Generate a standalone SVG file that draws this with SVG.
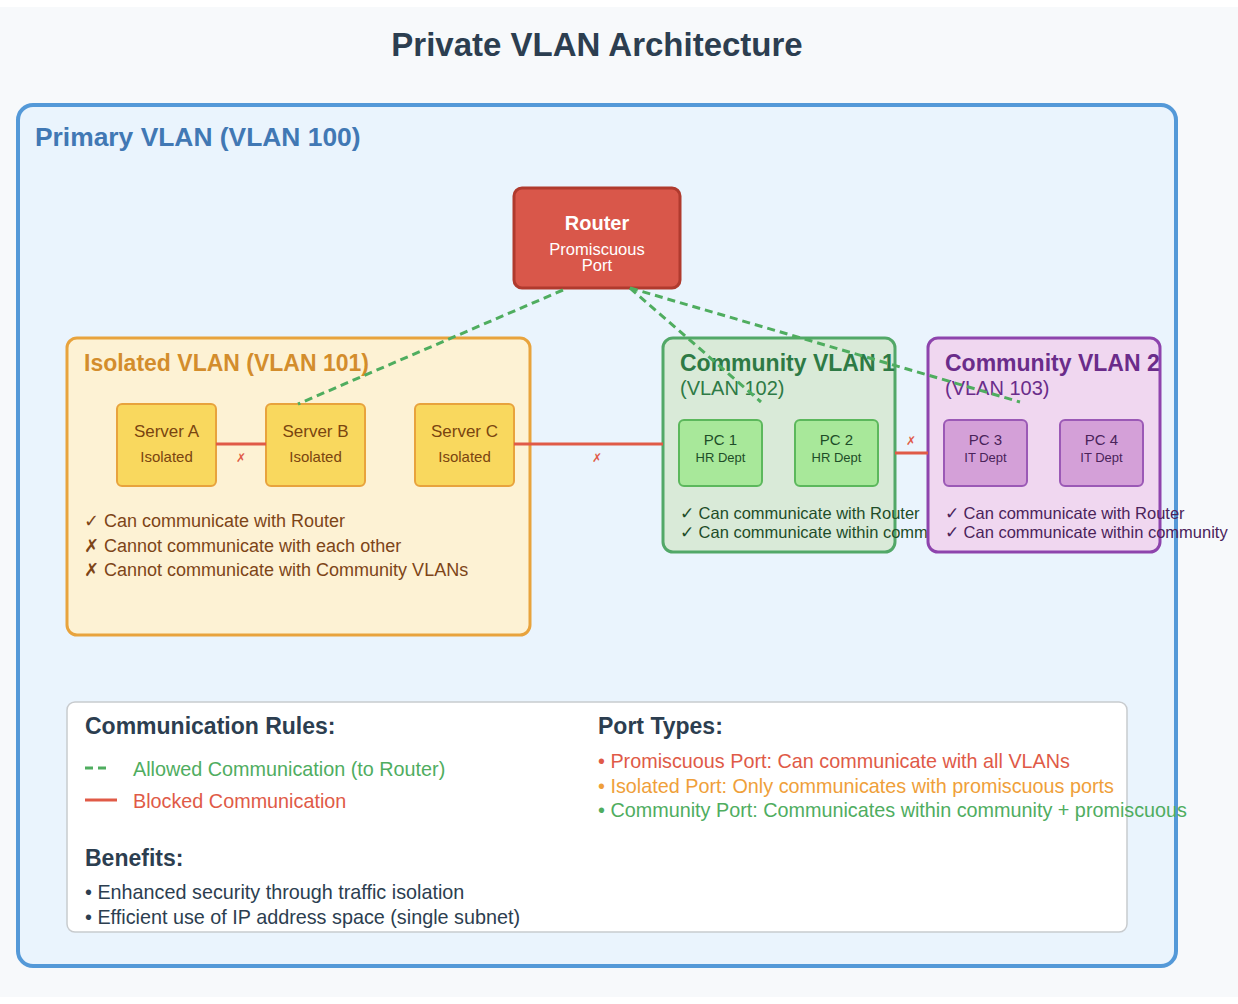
<svg xmlns="http://www.w3.org/2000/svg" width="1238" height="1004" viewBox="0 0 1238 1004">
<style>
text{font-family:"Liberation Sans",Arial,Helvetica,sans-serif}
.b{font-weight:bold}
.allow{stroke:#4fad5f;stroke-width:3;stroke-dasharray:8,5;fill:none}
.block{stroke:#e05a47;stroke-width:3;fill:none}
.x{fill:#e05a47;font-size:12px;text-anchor:middle}
.srv{fill:#f9d85e;stroke:#e8a33d;stroke-width:2}
.srvt{fill:#7a4510;text-anchor:middle}
.pcg{fill:#a8e89a;stroke:#5cb85c;stroke-width:2}
.pcgt{fill:#1e4d28;text-anchor:middle}
.pcp{fill:#d4a0d8;stroke:#9b59b6;stroke-width:2}
.pcpt{fill:#4a235a;text-anchor:middle}
.lg{font-size:19.8px}
</style>
<rect x="0" y="0" width="1238" height="1004" fill="#ffffff"/>
<rect x="0" y="7" width="1238" height="990" fill="#f7f9fb"/>
<text x="597" y="56" class="b" font-size="33" fill="#2c3e50" text-anchor="middle">Private VLAN Architecture</text>

<g id="primary-vlan">
<rect x="18" y="105" width="1158" height="861" rx="15" fill="#eaf4fd" stroke="#5499d8" stroke-width="4"/>
<text x="35" y="146" class="b" font-size="26.4" fill="#4178b4">Primary VLAN (VLAN 100)</text>
</g>

<g id="router">
<rect x="514" y="188" width="166" height="100" rx="8" fill="#d9574a" stroke="#b03a2e" stroke-width="3"/>
<text x="597" y="230" class="b" font-size="20" fill="#ffffff" text-anchor="middle">Router</text>
<text x="597" y="255" font-size="16.5" fill="#ffffff" text-anchor="middle">Promiscuous</text>
<text x="597" y="271" font-size="16.5" fill="#ffffff" text-anchor="middle">Port</text>
</g>

<g id="isolated-vlan">
<rect x="67" y="338" width="463" height="297" rx="10" fill="#fdf2d4" stroke="#e8a33d" stroke-width="3"/>
<text x="84" y="371" class="b" font-size="23" fill="#d38d2c">Isolated VLAN (VLAN 101)</text>
<text x="84" y="527" font-size="18" fill="#7d4518">✓ Can communicate with Router</text>
<text x="84" y="552" font-size="18" fill="#7d4518">✗ Cannot communicate with each other</text>
<text x="84" y="576" font-size="18" fill="#7d4518">✗ Cannot communicate with Community VLANs</text>
</g>
<g id="server-a">
<rect class="srv" x="117" y="404" width="99" height="82" rx="5"/>
<text class="srvt" x="166.5" y="437" font-size="17">Server A</text>
<text class="srvt" x="166.5" y="462" font-size="15">Isolated</text>
</g>
<g id="server-b">
<rect class="srv" x="266" y="404" width="99" height="82" rx="5"/>
<text class="srvt" x="315.5" y="437" font-size="17">Server B</text>
<text class="srvt" x="315.5" y="462" font-size="15">Isolated</text>
</g>
<g id="server-c">
<rect class="srv" x="415" y="404" width="99" height="82" rx="5"/>
<text class="srvt" x="464.5" y="437" font-size="17">Server C</text>
<text class="srvt" x="464.5" y="462" font-size="15">Isolated</text>
</g>

<g id="community-vlan-1">
<rect x="663" y="338" width="232" height="214" rx="10" fill="#d9ead8" stroke="#52a868" stroke-width="3"/>
<text x="680" y="371" class="b" font-size="23" fill="#2e7a45">Community VLAN 1</text>
<text x="680" y="395" font-size="20" fill="#2e7a45">(VLAN 102)</text>
<text x="680" y="519" font-size="16.5" fill="#1e4d28">✓ Can communicate with Router</text>
<text x="680" y="538" font-size="16.5" fill="#1e4d28">✓ Can communicate within community</text>
</g>
<g id="pc1">
<rect class="pcg" x="679" y="420" width="83" height="66" rx="5"/>
<text class="pcgt" x="720.5" y="445" font-size="15">PC 1</text>
<text class="pcgt" x="720.5" y="462" font-size="13">HR Dept</text>
</g>
<g id="pc2">
<rect class="pcg" x="795" y="420" width="83" height="66" rx="5"/>
<text class="pcgt" x="836.5" y="445" font-size="15">PC 2</text>
<text class="pcgt" x="836.5" y="462" font-size="13">HR Dept</text>
</g>

<g id="community-vlan-2">
<rect x="928" y="338" width="232" height="214" rx="10" fill="#f0d7f0" stroke="#8e44ad" stroke-width="3"/>
<text x="945" y="371" class="b" font-size="23" fill="#6a2c8a">Community VLAN 2</text>
<text x="945" y="395" font-size="20" fill="#6a2c8a">(VLAN 103)</text>
<text x="945" y="519" font-size="16.5" fill="#4a235a">✓ Can communicate with Router</text>
<text x="945" y="538" font-size="16.5" fill="#4a235a">✓ Can communicate within community</text>
</g>
<g id="pc3">
<rect class="pcp" x="944" y="420" width="83" height="66" rx="5"/>
<text class="pcpt" x="985.5" y="445" font-size="15">PC 3</text>
<text class="pcpt" x="985.5" y="462" font-size="13">IT Dept</text>
</g>
<g id="pc4">
<rect class="pcp" x="1060" y="420" width="83" height="66" rx="5"/>
<text class="pcpt" x="1101.5" y="445" font-size="15">PC 4</text>
<text class="pcpt" x="1101.5" y="462" font-size="13">IT Dept</text>
</g>

<g id="connectors">
<line class="allow" x1="563" y1="290" x2="298" y2="404"/>
<line class="allow" x1="630" y1="288" x2="761" y2="402"/>
<line class="allow" x1="630" y1="288" x2="1020" y2="402"/>
<line class="block" x1="216" y1="444" x2="266" y2="444"/>
<text class="x" x="241" y="462">✗</text>
<line class="block" x1="514" y1="444" x2="663" y2="444"/>
<text class="x" x="597" y="462">✗</text>
<line class="block" x1="895" y1="453" x2="928" y2="453"/>
<text class="x" x="911" y="445">✗</text>
</g>

<g id="legend">
<rect x="67" y="702" width="1060" height="230" rx="8" fill="#ffffff" stroke="#c8cbce" stroke-width="1.5"/>
<text x="85" y="734" class="b" font-size="23" fill="#2c3e50">Communication Rules:</text>
<line class="allow" x1="85" y1="768" x2="110" y2="768"/>
<text x="133" y="776" class="lg" fill="#4fad5f">Allowed Communication (to Router)</text>
<line class="block" x1="85" y1="800" x2="117" y2="800"/>
<text x="133" y="808" class="lg" fill="#e05a47">Blocked Communication</text>
<text x="85" y="866" class="b" font-size="23" fill="#2c3e50">Benefits:</text>
<text x="85" y="899" class="lg" fill="#2c3e50">• Enhanced security through traffic isolation</text>
<text x="85" y="924" class="lg" fill="#2c3e50">• Efficient use of IP address space (single subnet)</text>
<text x="598" y="734" class="b" font-size="23" fill="#2c3e50">Port Types:</text>
<text x="598" y="768" class="lg" fill="#e05a47">• Promiscuous Port: Can communicate with all VLANs</text>
<text x="598" y="793" class="lg" fill="#ef9f3a">• Isolated Port: Only communicates with promiscuous ports</text>
<text x="598" y="817" class="lg" fill="#4fad5f">• Community Port: Communicates within community + promiscuous</text>
</g>
</svg>
